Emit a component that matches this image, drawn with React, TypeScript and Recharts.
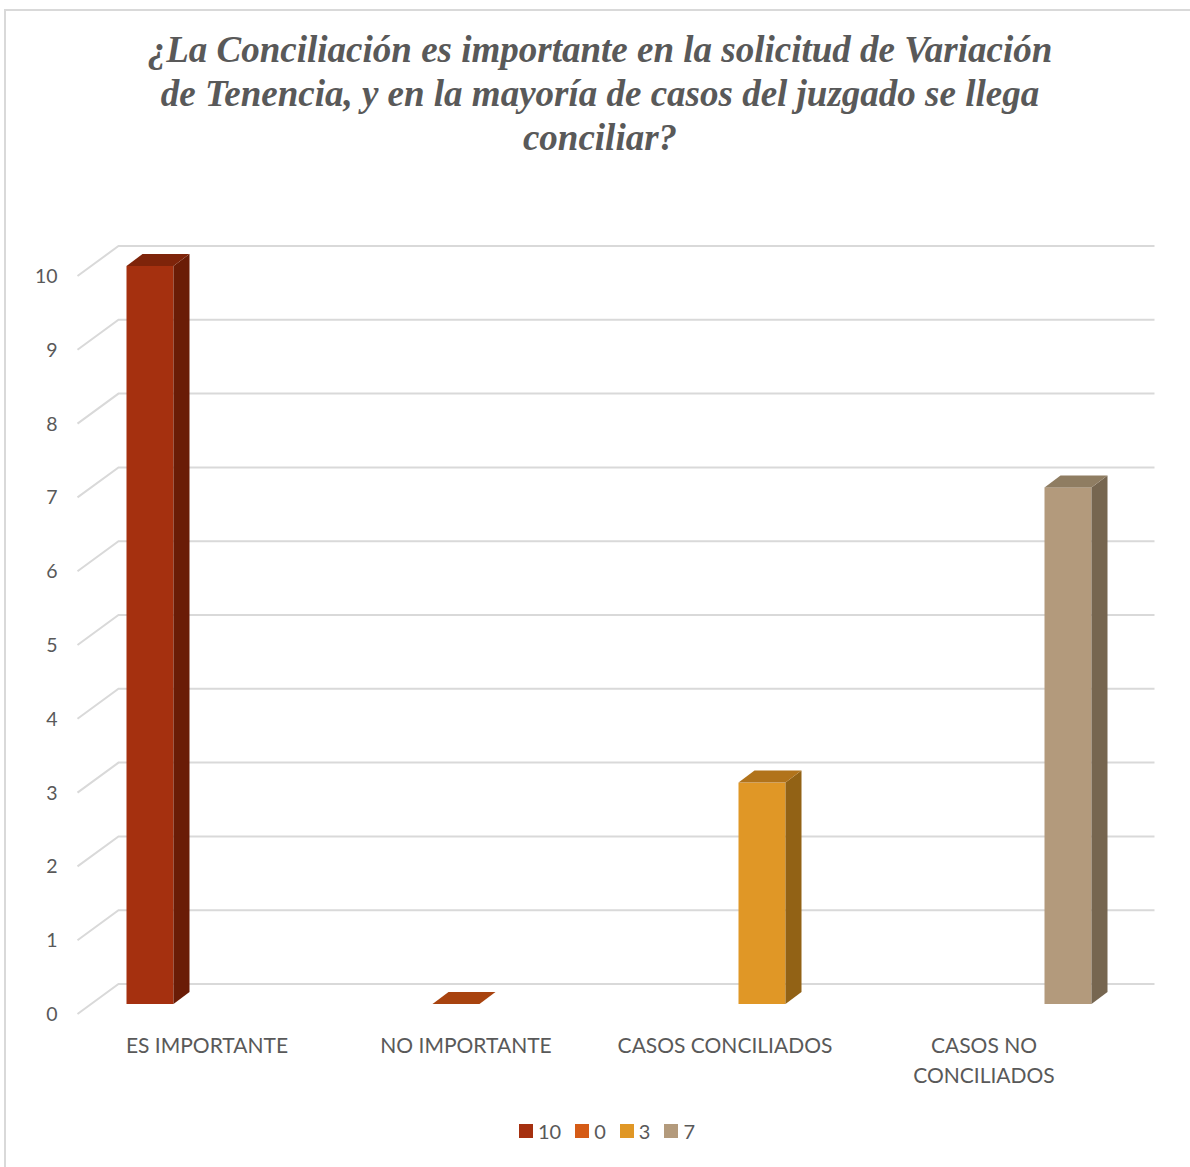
import React from 'react';
import { BarChart, Bar, XAxis, YAxis, CartesianGrid } from 'recharts';

const titleLines = [
  '¿La Conciliación es importante en la solicitud de Variación',
  'de Tenencia, y en la mayoría de casos del juzgado se llega',
  'conciliar?',
];
const categories = ['ES IMPORTANTE', 'NO IMPORTANTE', 'CASOS CONCILIADOS', 'CASOS NO CONCILIADOS'];
const seriesNames = ['10', '0', '3', '7'];
const seriesValues = [10, 0, 3, 7];
const yTicks = [0, 1, 2, 3, 4, 5, 6, 7, 8, 9, 10];
const frontColors = ['#A5300F', '#D55B16', '#E09726', '#B39A7C'];
const sideColors = ['#6A1C06', '#8C3A0E', '#926215', '#766650'];
const topColors = ['#7E240A', '#A8430F', '#B1731B', '#8F7D62'];

const data = categories.map((c, i) => {
  const row: any = { name: c };
  seriesValues.forEach((v, j) => {
    row['s' + j] = i === j ? v : null;
  });
  return row;
});

const SHIFT_X = 13;
const SHIFT_Y = -10;
const DEPTH_X = 16;
const DEPTH_Y = -12;
const GRID_DX = 41;
const GRID_DY = -30;
const TEXT = '#595959';
const SANS = 'Lato, "Open Sans", sans-serif';
const CAT_FONT = 21;
const CAT_MAX_W = 230;

const make3D = (j: number) => (props: any) => {
  const { x, y, width, height, payload } = props;
  if (!payload || payload['s' + j] == null) return <g />;
  const fx = x + SHIFT_X;
  const fy = y + SHIFT_Y;
  const w = width;
  const h = Math.max(0, height);
  const top = `${fx},${fy} ${fx + DEPTH_X},${fy + DEPTH_Y} ${fx + w + DEPTH_X},${fy + DEPTH_Y} ${fx + w},${fy}`;
  const side = `${fx + w},${fy} ${fx + w + DEPTH_X},${fy + DEPTH_Y} ${fx + w + DEPTH_X},${fy + DEPTH_Y + h} ${fx + w},${fy + h}`;
  return (
    <g>
      {h > 0 && <rect x={fx} y={fy} width={w} height={h} fill={frontColors[j]} />}
      {h > 0 && <polygon points={side} fill={sideColors[j]} />}
      <polygon points={top} fill={topColors[j]} />
    </g>
  );
};

const gridLine = (props: any) => {
  const { x1, y1, x2 } = props;
  const d = `M${x1},${y1} L${x1 + GRID_DX},${y1 + GRID_DY} L${x2 + GRID_DX},${y1 + GRID_DY}`;
  return <path key={`g-${y1}`} d={d} stroke="#D9D9D9" strokeWidth={2} fill="none" />;
};

let measureCtx: CanvasRenderingContext2D | null = null;
const measure = (s: string) => {
  if (!measureCtx) {
    const c = document.createElement('canvas');
    measureCtx = c.getContext('2d');
  }
  if (!measureCtx) return s.length * CAT_FONT * 0.6;
  measureCtx.font = `${CAT_FONT}px Lato, sans-serif`;
  return measureCtx.measureText(s).width;
};

const wrap = (label: string) => {
  const words = label.split(' ');
  const lines: string[] = [];
  let cur = '';
  words.forEach((w) => {
    const next = cur ? cur + ' ' + w : w;
    if (cur && measure(next) > CAT_MAX_W) {
      lines.push(cur);
      cur = w;
    } else {
      cur = next;
    }
  });
  if (cur) lines.push(cur);
  return lines;
};

const CategoryTick = (props: any) => {
  const { x, y, payload } = props;
  const lines = wrap(String(payload.value));
  return (
    <text x={x} y={y} textAnchor="middle" fill={TEXT} fontSize={CAT_FONT} fontFamily={SANS}>
      {lines.map((l, i) => (
        <tspan key={i} x={x} dy={i === 0 ? '0.71em' : 30}>
          {l}
        </tspan>
      ))}
    </text>
  );
};

export default function App() {
  return (
    <div style={{ position: 'fixed', left: 0, top: 0, width: 1190, height: 1167, overflow: 'hidden', background: '#fff' }}>
      <div
        style={{
          position: 'absolute',
          left: 4,
          top: 9,
          width: 1220,
          height: 1220,
          border: '2px solid #D9D9D9',
          boxSizing: 'border-box',
        }}
      />
      <div
        style={{
          position: 'absolute',
          left: 0,
          top: 28,
          width: 1200,
          textAlign: 'center',
          fontFamily: '"Liberation Serif", "Times New Roman", serif',
          fontWeight: 'bold',
          fontStyle: 'italic',
          fontSize: 37,
          lineHeight: '44px',
          color: TEXT,
        }}
      >
        {titleLines.map((t) => (
          <div key={t}>{t}</div>
        ))}
      </div>
      <div style={{ position: 'absolute', left: 0, top: 0 }}>
        <BarChart
          width={1190}
          height={1167}
          data={data}
          margin={{ top: 276, right: 76.5, bottom: 73, left: 0 }}
          barSize={47}
          barGap={0}
        >
          <CartesianGrid vertical={false} horizontal={gridLine} />
          <XAxis
            dataKey="name"
            height={80}
            axisLine={false}
            tickLine={false}
            tickSize={0}
            tickMargin={24}
            interval={0}
            tick={<CategoryTick />}
          />
          <YAxis
            width={77.5}
            domain={[0, 10]}
            ticks={yTicks}
            interval={0}
            axisLine={false}
            tickLine={false}
            tickSize={0}
            tickMargin={20}
            tick={{ fill: TEXT, fontSize: 19.5, fontFamily: SANS }}
          />
          {seriesNames.map((n, j) => (
            <Bar
              key={n}
              dataKey={'s' + j}
              name={n}
              fill={frontColors[j]}
              isAnimationActive={false}
              shape={make3D(j)}
            />
          ))}
        </BarChart>
      </div>
      <div
        style={{
          position: 'absolute',
          left: 19,
          top: 1119,
          width: 1190,
          display: 'flex',
          justifyContent: 'center',
          alignItems: 'center',
          fontFamily: SANS,
          fontSize: 20,
          color: TEXT,
        }}
      >
        {seriesNames.map((n, j) => (
          <div key={n} style={{ display: 'flex', alignItems: 'center', marginRight: 14 }}>
            <div style={{ width: 14, height: 14, background: frontColors[j], marginRight: 5 }} />
            <span>{n}</span>
          </div>
        ))}
      </div>
    </div>
  );
}
